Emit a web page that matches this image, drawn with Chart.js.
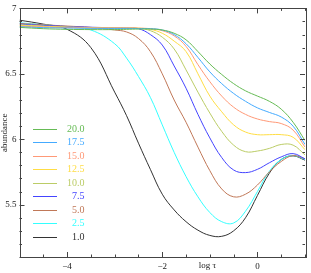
<!DOCTYPE html>
<html>
<head>
<meta charset="utf-8">
<script src="https://cdn.jsdelivr.net/npm/chart.js@4"></script>
<style>
  html, body { margin: 0; padding: 0; background: #fff; }
  #wrap { width: 311px; height: 273px; }
</style>
</head>
<body>
<div id="wrap"><canvas id="chart"></canvas></div>
<script>
// log tau sample points
const logTau = [-5, -4.5, -4, -3.5, -3, -2.75, -2.5, -2.25, -2, -1.75, -1.5, -1.25, -1, -0.75, -0.5, -0.25, 0, 0.25, 0.5, 0.75, 1];

const ab1_0  = [6.91, 6.88, 6.84, 6.70, 6.36, 6.18, 5.97, 5.77, 5.58, 5.46, 5.37, 5.305, 5.265, 5.258, 5.30, 5.40, 5.57, 5.74, 5.845, 5.873, 5.84];
const ab2_5  = [6.89, 6.875, 6.86, 6.835, 6.73, 6.62, 6.48, 6.32, 6.11, 5.90, 5.715, 5.56, 5.44, 5.37, 5.36, 5.45, 5.60, 5.755, 5.845, 5.875, 5.845];
const ab5_0  = [6.885, 6.875, 6.865, 6.855, 6.835, 6.82, 6.77, 6.67, 6.50, 6.30, 6.13, 5.94, 5.76, 5.62, 5.56, 5.58, 5.65, 5.75, 5.83, 5.875, 5.85];
const ab7_5  = [6.88, 6.87, 6.862, 6.856, 6.852, 6.85, 6.845, 6.80, 6.72, 6.56, 6.39, 6.19, 6.01, 5.86, 5.765, 5.745, 5.77, 5.82, 5.865, 5.89, 5.85];
const ab10_0 = [6.875, 6.865, 6.857, 6.852, 6.85, 6.849, 6.847, 6.83, 6.78, 6.69, 6.53, 6.36, 6.20, 6.06, 5.955, 5.905, 5.91, 5.93, 5.96, 5.955, 5.88];
const ab12_5 = [6.87, 6.862, 6.857, 6.853, 6.851, 6.85, 6.849, 6.84, 6.81, 6.75, 6.67, 6.50, 6.33, 6.21, 6.11, 6.055, 6.035, 6.035, 6.035, 6.015, 5.92];
const ab15_0 = [6.865, 6.858, 6.854, 6.851, 6.85, 6.85, 6.849, 6.845, 6.83, 6.79, 6.71, 6.57, 6.44, 6.33, 6.245, 6.19, 6.155, 6.135, 6.12, 6.07, 5.94];
const ab17_5 = [6.86, 6.853, 6.85, 6.848, 6.847, 6.847, 6.846, 6.845, 6.835, 6.80, 6.73, 6.625, 6.515, 6.425, 6.35, 6.29, 6.24, 6.205, 6.17, 6.10, 5.96];
const ab20_0 = [6.855, 6.845, 6.84, 6.838, 6.838, 6.84, 6.842, 6.842, 6.835, 6.81, 6.76, 6.67, 6.575, 6.495, 6.425, 6.37, 6.33, 6.29, 6.23, 6.13, 5.99];

const seriesLabels = ['1.0', '2.5', '5.0', '7.5', '10.0', '12.5', '15.0', '17.5', '20.0'];
const seriesValues = [ab1_0, ab2_5, ab5_0, ab7_5, ab10_0, ab12_5, ab15_0, ab17_5, ab20_0];
const seriesColors = ['#333333', '#33ffff', '#c07858', '#4444ff', '#bbcc66', '#ffdd44', '#ff9977', '#44aaff', '#66bb55'];

const xTicks = [-4, -2, 0];
const yTicks = [5.5, 6, 6.5, 7];

const serif = "'Liberation Serif', 'DejaVu Serif', serif";

// inward ticks + box, PGPLOT style
const framePlugin = {
    id: 'frame',
    afterDraw(chart) {
        const { ctx, chartArea: a, scales: { x, y } } = chart;
        ctx.save();
        ctx.strokeStyle = '#444';
        ctx.lineWidth = 1;
        ctx.beginPath();
        for (let i = 0; i <= 12; i++) {
            const v = -5 + i * 0.5;
            const px = Math.round(x.getPixelForValue(v)) + 0.5;
            const len = (v % 2 === 0) ? 5 : 2.5;
            ctx.moveTo(px, a.bottom); ctx.lineTo(px, a.bottom - len);
            ctx.moveTo(px, a.top); ctx.lineTo(px, a.top + len);
        }
        for (let i = 0; i <= 19; i++) {
            const v = 5.1 + i * 0.1;
            const py = Math.round(y.getPixelForValue(v)) + 0.5;
            const major = Math.abs(v * 2 - Math.round(v * 2)) < 1e-6;
            const len = major ? 5 : 2.5;
            ctx.moveTo(a.left, py); ctx.lineTo(a.left + len, py);
            ctx.moveTo(a.right, py); ctx.lineTo(a.right - len, py);
        }
        ctx.stroke();
        ctx.strokeRect(Math.round(a.left) + 0.5, Math.round(a.top) + 0.5,
            Math.round(a.right - a.left), Math.round(a.bottom - a.top));

        // axis titles
        ctx.fillStyle = '#222';
        ctx.font = '9px ' + serif;
        ctx.textAlign = 'center';
        ctx.textBaseline = 'middle';
        ctx.fillText('log \u03c4', x.getPixelForValue(-1.05), 266);
        ctx.translate(5, (a.top + a.bottom) / 2);
        ctx.rotate(-Math.PI / 2);
        ctx.fillText('abundance', 0, 0);
        ctx.restore();
    }
};

const legendPlugin = {
    id: 'inlineLegend',
    afterDatasetsDraw(chart) {
        const { ctx, chartArea: a } = chart;
        ctx.save();
        ctx.font = '10px ' + serif;
        ctx.textAlign = 'right';
        ctx.textBaseline = 'middle';
        chart.data.datasets.forEach((d, i) => {
            const yy = a.top + 120.5 + i * 13.45;
            ctx.strokeStyle = d.borderColor;
            ctx.lineWidth = 1;
            ctx.beginPath();
            ctx.moveTo(a.left + 13.5, Math.round(yy) + 0.5);
            ctx.lineTo(a.left + 37.5, Math.round(yy) + 0.5);
            ctx.stroke();
            ctx.fillStyle = d.borderColor;
            ctx.fillText(d.label, a.left + 65, yy + 0.5);
        });
        ctx.restore();
    }
};

new Chart(document.getElementById('chart'), {
    type: 'line',
    data: {
        // highest first, so legend reads 20.0 down to 1.0
        datasets: seriesLabels.map((label, i) => ({
            label: label,
            data: logTau.map((t, j) => ({ x: t, y: seriesValues[i][j] })),
            borderColor: seriesColors[i],
            borderWidth: 1,
            pointRadius: 0,
            tension: 0.4
        })).reverse()
    },
    options: {
        responsive: true,
        maintainAspectRatio: false,
        animation: false,
        layout: { padding: { top: 3, right: 6, left: 0, bottom: 0 } },
        plugins: { legend: { display: false }, tooltip: { enabled: false } },
        scales: {
            x: {
                type: 'linear',
                min: -5, max: 1,
                grid: { display: false, drawTicks: false },
                border: { display: false },
                afterBuildTicks: s => { s.ticks = xTicks.map(v => ({ value: v })); },
                afterFit: s => { s.height = 16; },
                ticks: {
                    color: '#222',
                    font: { family: serif, size: 9 },
                    padding: 4,
                    maxRotation: 0,
                    callback: v => (v < 0 ? '\u2212' + Math.abs(v) : String(v))
                }
            },
            y: {
                min: 5.1, max: 7,
                grid: { display: false, drawTicks: false },
                border: { display: false },
                afterBuildTicks: s => { s.ticks = yTicks.map(v => ({ value: v })); },
                afterFit: s => { s.width = 19.5; },
                ticks: {
                    color: '#222',
                    font: { family: serif, size: 9 },
                    padding: 3,
                    callback: v => String(v)
                }
            }
        }
    },
    plugins: [framePlugin, legendPlugin]
});
</script>
</body>
</html>
